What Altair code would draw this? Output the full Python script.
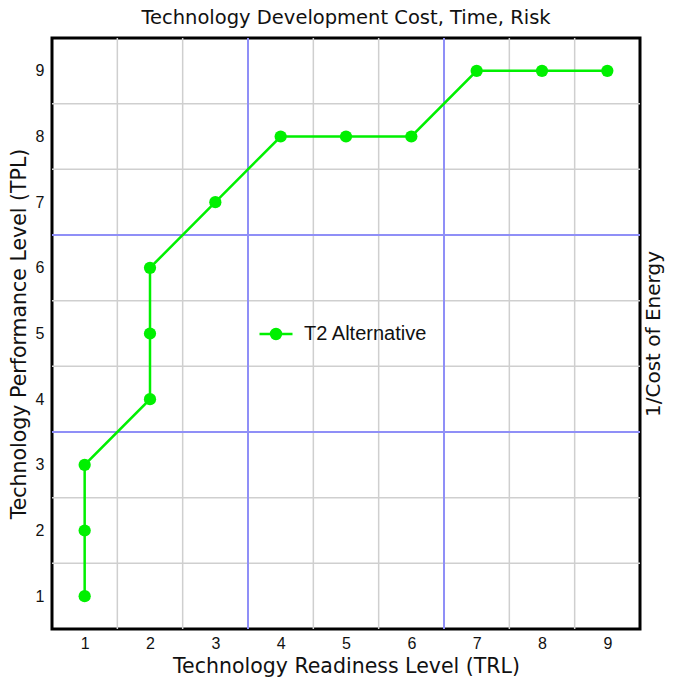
import altair as alt
import pandas as pd

# Data
trl = [1, 1, 1, 2, 2, 2, 3, 4, 5, 6, 7, 8, 9]
tpl = [1, 2, 3, 4, 5, 6, 7, 8, 8, 8, 9, 9, 9]
series_name = "T2 Alternative"
tick_values = [1, 2, 3, 4, 5, 6, 7, 8, 9]
grid_lines = [1.5, 2.5, 4.5, 5.5, 7.5, 8.5]
highlight_lines = [3.5, 6.5]

GREEN = "#00f000"
BLUE = "#8f8ff7"
GRAY = "#cfcfcf"

df = pd.DataFrame({"TRL": trl, "TPL": tpl, "Series": [series_name] * len(trl)})
grid_df = pd.DataFrame({"v": grid_lines})
hi_df = pd.DataFrame({"v": highlight_lines})

xs = alt.Scale(domain=[0.5, 9.5], nice=False, zero=False)
ys = alt.Scale(domain=[0.5, 9.5], nice=False, zero=False)

gv = alt.Chart(grid_df).mark_rule(color=GRAY, strokeWidth=1.5).encode(
    x=alt.X("v:Q", scale=xs, axis=None))
gh = alt.Chart(grid_df).mark_rule(color=GRAY, strokeWidth=1.5).encode(
    y=alt.Y("v:Q", scale=ys, axis=None))
bv = alt.Chart(hi_df).mark_rule(color=BLUE, strokeWidth=2).encode(
    x=alt.X("v:Q", scale=xs, axis=None))
bh = alt.Chart(hi_df).mark_rule(color=BLUE, strokeWidth=2).encode(
    y=alt.Y("v:Q", scale=ys, axis=alt.Axis(
        orient="right", labels=False, ticks=False, domain=False, grid=False,
        title="1/Cost of Energy", titleFont="DejaVu Sans", titleFontSize=20,
        titleFontWeight="normal", titleColor="#111", titlePadding=23,
        titleAngle=270)))

color = alt.Color("Series:N", scale=alt.Scale(domain=[series_name], range=[GREEN]),
                  legend=alt.Legend(
                      orient="none", legendX=206, legendY=278, title=None,
                      symbolType="M-1,0L1,0M-0.3,0A0.3,0.3 0 1,1 0.3,0A0.3,0.3 0 1,1 -0.3,0Z",
                      symbolSize=1089, symbolStrokeWidth=2.5,
                      symbolStrokeColor=GREEN, symbolFillColor=GREEN,
                      labelFont="Liberation Sans", labelFontSize=20, labelColor="#111",
                      labelOffset=10))

xaxis = alt.Axis(values=tick_values, grid=False, ticks=False, domain=False,
                 labelFont="Liberation Sans", labelFontSize=16, labelColor="#111",
                 labelPadding=6, title="Technology Readiness Level (TRL)",
                 titleFont="DejaVu Sans", titleFontSize=20.5, titleFontWeight="normal",
                 titleColor="#111", titlePadding=5)
yaxis = alt.Axis(values=tick_values, grid=False, ticks=False, domain=False,
                 labelFont="Liberation Sans", labelFontSize=16, labelColor="#111",
                 labelPadding=8, title="Technology Performance Level (TPL)",
                 titleFont="DejaVu Sans", titleFontSize=20.5, titleFontWeight="normal",
                 titleColor="#111", titlePadding=6)

line = alt.Chart(df).mark_line(strokeWidth=2.5).encode(
    x=alt.X("TRL:Q", scale=xs, axis=xaxis),
    y=alt.Y("TPL:Q", scale=ys, axis=yaxis),
    color=color, order=alt.Order("idx:Q")).transform_window(idx="row_number()")
pts = alt.Chart(df).mark_point(filled=True, size=150, opacity=1).encode(
    x=alt.X("TRL:Q", scale=xs, axis=None),
    y=alt.Y("TPL:Q", scale=ys, axis=None),
    color=color)

chart = alt.layer(gv, gh, bv, bh, line, pts).resolve_axis(
    x="independent", y="independent").properties(
    width=588, height=591,
    title=alt.Title("Technology Development Cost, Time, Risk", font="DejaVu Sans",
                    fontSize=19.5, fontWeight="normal", color="#111", offset=9),
    autosize=alt.AutoSizeParams(type="none"),
    padding={"left": 44, "top": 30, "right": 27, "bottom": 48},
    background="white",
).configure_view(stroke="black", strokeWidth=3)

chart.save("out.html", embed_options={"renderer": "svg", "actions": False})
